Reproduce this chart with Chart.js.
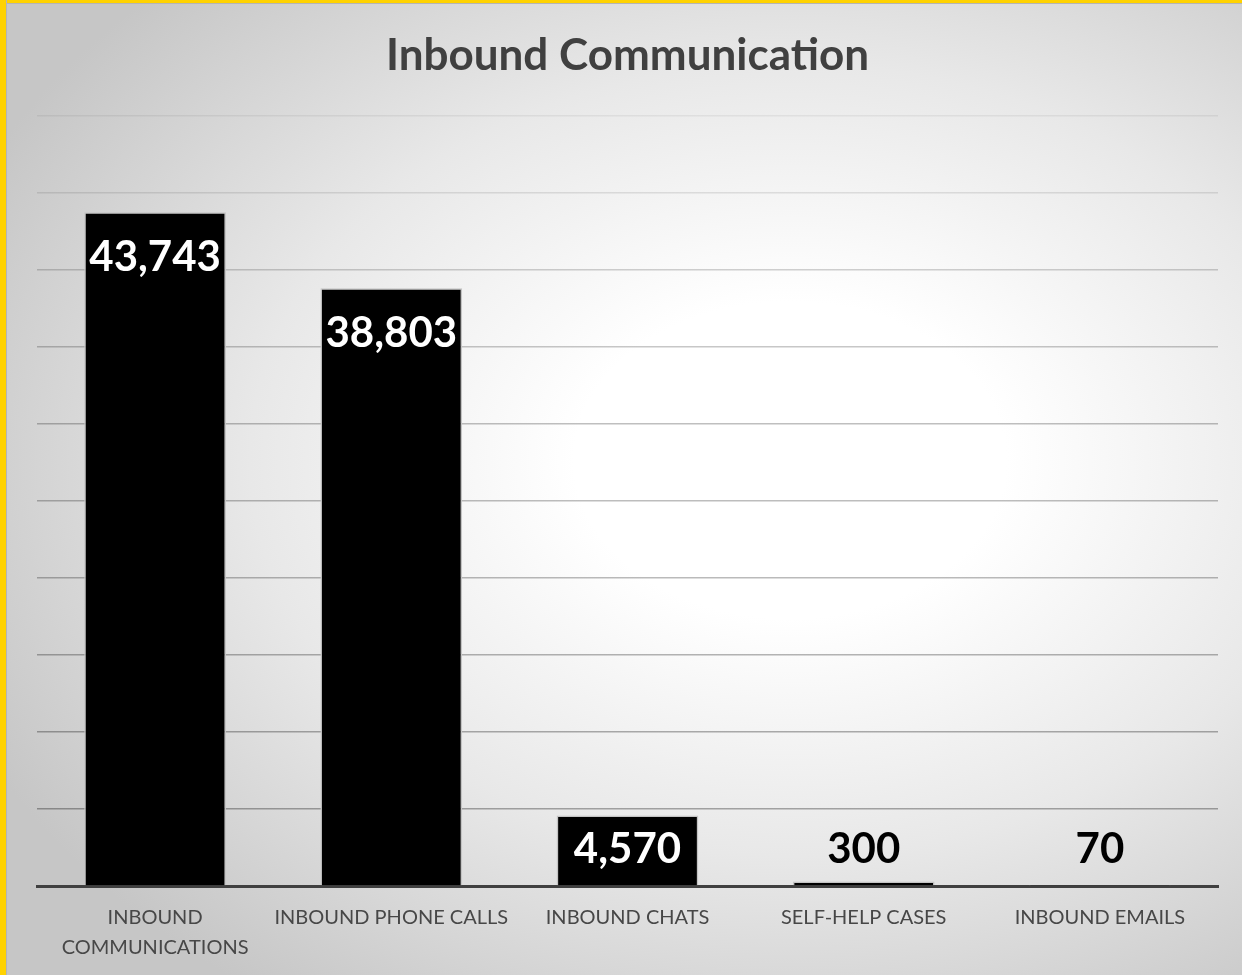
<!DOCTYPE html>
<html>
<head>
<meta charset="utf-8">
<script src="https://cdn.jsdelivr.net/npm/chart.js@4"></script>
<style>
  html, body { margin: 0; padding: 0; }
  body { width: 1242px; height: 975px; overflow: hidden; }
  #frame {
    position: relative;
    width: 1242px;
    height: 975px;
    background: radial-gradient(ellipse 900px 660px at 790px 460px, #ffffff 0%, #ffffff 24%, #e8e8e8 60%, #c6c6c6 100%);
  }
  #frame .bar-top { position: absolute; left: 0; top: 0; width: 1242px; height: 3px; background: #ffd200; border-bottom: 1px solid #b4b4b4; }
  #frame .bar-left { position: absolute; left: 0; top: 0; width: 6px; height: 975px; background: #ffd200; border-right: 1px solid #b4b4b4; }
  canvas { position: absolute; left: 0; top: 0; }
</style>
</head>
<body>
<div id="frame">
  <canvas id="chart" width="1242" height="975"></canvas>
  <div class="bar-top"></div>
  <div class="bar-left"></div>
</div>
<script>
  // chart data
  const categories = [
    ['INBOUND', 'COMMUNICATIONS'],
    'INBOUND PHONE CALLS',
    'INBOUND CHATS',
    'SELF-HELP CASES',
    'INBOUND EMAILS'
  ];
  const counts = [43743, 38803, 4570, 300, 70];
  const yTicks = [0, 5000, 10000, 15000, 20000, 25000, 30000, 35000, 40000, 45000, 50000];

  // gridlines fade out toward the top of the plot
  const gridAlpha = [0, 0.32, 0.31, 0.29, 0.27, 0.26, 0.25, 0.22, 0.18, 0.1, 0.06];

  // value labels: white inside tall bars, black above short ones
  const barValueLabels = {
    id: 'barValueLabels',
    afterDatasetsDraw(chart) {
      const ctx = chart.ctx;
      const meta = chart.getDatasetMeta(0);
      ctx.save();
      ctx.font = "bold 42px Lato, 'Open Sans', sans-serif";
      ctx.textAlign = 'center';
      ctx.textBaseline = 'middle';
      meta.data.forEach((bar, i) => {
        const cy = Math.min(bar.y + 45, bar.base - 36);
        ctx.fillStyle = bar.y < cy - 20 ? '#ffffff' : '#000000';
        ctx.fillText(counts[i].toLocaleString('en-US'), bar.x, cy);
      });
      ctx.restore();
    }
  };

  new Chart(document.getElementById('chart'), {
    type: 'bar',
    data: {
      labels: categories,
      datasets: [{
        data: counts,
        backgroundColor: '#000000',
        borderColor: '#c4c4c4',
        borderWidth: 1.5,
        categoryPercentage: 1,
        barPercentage: 0.6
      }]
    },
    options: {
      responsive: false,
      animation: false,
      layout: { padding: { left: 37, right: 24, top: 0, bottom: 0 } },
      plugins: {
        legend: { display: false },
        tooltip: { enabled: false },
        title: {
          display: true,
          text: 'Inbound Communication',
          color: '#404040',
          font: { family: "Lato, 'Open Sans', sans-serif", size: 44, weight: 'bold' },
          padding: { top: 29, bottom: 34 }
        }
      },
      scales: {
        x: {
          grid: { display: false, drawTicks: false },
          border: { display: true, color: '#404040', width: 3 },
          ticks: {
            color: '#474747',
            font: { family: "Lato, 'Open Sans', sans-serif", size: 20, lineHeight: 1.5 },
            padding: 17,
            maxRotation: 0,
            autoSkip: false
          },
          afterFit(scale) {
            scale.height = 89;
          }
        },
        y: {
          min: yTicks[0],
          max: yTicks[yTicks.length - 1],
          afterBuildTicks(scale) {
            scale.ticks = yTicks.map(v => ({ value: v }));
          },
          grid: {
            drawTicks: false,
            lineWidth: 1.5,
            color: ctx => `rgba(0, 0, 0, ${gridAlpha[ctx.index] ?? 0.25})`
          },
          border: { display: false },
          ticks: { display: false }
        }
      }
    },
    plugins: [barValueLabels]
  });
</script>
</body>
</html>
